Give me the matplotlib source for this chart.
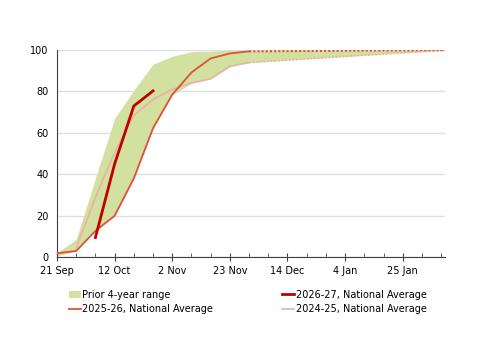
import matplotlib.pyplot as plt
from matplotlib.patches import Patch
from matplotlib.lines import Line2D

# x values are weeks since 21 Sep
weeks = [0, 1, 2, 3, 4, 5, 6, 7, 8, 9, 10]
band_x = [0, 1, 2, 3, 4, 5, 6, 7, 8, 9, 10, 20.2]
band_low = [0.5, 3, 13, 20, 38, 62, 78.5, 84, 86, 92, 94, 100]
band_high = [2, 8.6, 38, 67, 80.6, 93.2, 97, 99.2, 99.5, 100, 100, 100]

s2526 = [1.8, 2.9, 12.6, 19.9, 38, 62.3, 78.5, 89.2, 96, 98.4, 99.4]
s2526_tail_x = [10, 20.2]
s2526_tail = [99.4, 100]

s2627_x = [2, 3, 4, 5]
s2627 = [9.4, 45, 73, 80.3]

s2425_x = [1, 2, 3, 4, 5, 6, 7, 8, 9, 10]
s2425 = [4.5, 28.8, 50.6, 68.4, 76.2, 81, 84.1, 86.2, 92.2, 94]
s2425_tail_x = [10, 20.2]
s2425_tail = [94, 100]

tick_pos = [0, 3, 6, 9, 12, 15, 18]
tick_labels = ['21 Sep', '12 Oct', '2 Nov', '23 Nov', '14 Dec', '4 Jan', '25 Jan']

green = '#d2e0a0'
red = '#e0503c'
dark_red = '#c00000'
pink = '#eeb0a4'

fig = plt.figure(figsize=(5, 3.53), dpi=100)
ax = fig.add_axes([0.114, 0.272, 0.776, 0.586])

ax.fill_between(band_x, band_low, band_high, color=green, linewidth=0, zorder=1)
ax.plot(s2425_x, s2425, color=pink, linewidth=1.2, zorder=2)
ax.plot(s2425_tail_x, s2425_tail, color=pink, linewidth=1.3, linestyle=(0, (1, 1)), zorder=2)
ax.plot(weeks, s2526, color=red, linewidth=1.3, zorder=3)
ax.plot(s2526_tail_x, s2526_tail, color=red, linewidth=1.5, linestyle=(0, (1, 1)), zorder=3)
ax.plot(s2627_x, s2627, color=dark_red, linewidth=2, zorder=4)

ax.set_xlim(0, 20.2)
ax.set_ylim(0, 100)
ax.set_yticks([0, 20, 40, 60, 80, 100])
ax.set_xticks(tick_pos)
ax.set_xticklabels(tick_labels)
ax.set_xticks(range(0, 21), minor=True)
ax.tick_params(axis='y', length=0, labelsize=7, pad=6)
ax.tick_params(axis='x', which='major', direction='inout', length=6, labelsize=7, color='#404040')
ax.tick_params(axis='x', which='minor', direction='in', length=3, color='#404040')
ax.grid(axis='y', color='#e0e0e0', linewidth=1)
ax.set_axisbelow(True)

for side in ['top', 'right']:
    ax.spines[side].set_visible(False)
ax.spines['left'].set_color('#404040')
ax.spines['bottom'].set_color('#404040')

handles = [
    Patch(facecolor=green, edgecolor='none'),
    Line2D([], [], color=red, linewidth=1.3),
    Line2D([], [], color=dark_red, linewidth=2),
    Line2D([], [], color=pink, linewidth=1.2),
]
labels = ['Prior 4-year range', '2025-26, National Average',
          '2026-27, National Average', '2024-25, National Average']
fig.legend(handles, labels, ncol=2, loc='upper left', bbox_to_anchor=(0.13, 0.19),
           frameon=False, fontsize=7, handlelength=1.2, handletextpad=0.2,
           columnspacing=7.1, labelspacing=0.45, borderaxespad=0)

fig.savefig('out.png', dpi=100)
